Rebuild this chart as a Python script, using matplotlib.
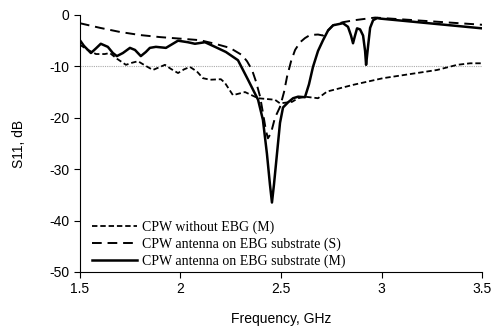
import numpy as np
import matplotlib
matplotlib.use("Agg")
import matplotlib.pyplot as plt

# CPW without EBG (M)
f_noebg = [1.500, 1.540, 1.580, 1.624, 1.649, 1.684, 1.729, 1.759, 1.789, 1.823,
           1.863, 1.893, 1.923, 1.953, 1.988, 2.017, 2.047, 2.082, 2.112, 2.147,
           2.201, 2.221, 2.261, 2.321, 2.386, 2.470, 2.495, 2.555, 2.585, 2.619,
           2.684, 2.729, 2.858, 3.007, 3.192, 3.276, 3.376, 3.440, 3.500]
s_noebg = [-5.8, -6.8, -7.6, -7.6, -7.4, -8.5, -9.7, -9.3, -9.0, -9.8,
           -10.7, -10.2, -9.7, -10.5, -11.3, -10.6, -10.1, -11.0, -12.3, -12.6,
           -12.5, -13.2, -15.6, -15.0, -16.2, -16.5, -17.2, -16.9, -16.2, -15.9,
           -16.2, -14.9, -13.6, -12.3, -11.2, -10.7, -9.7, -9.4, -9.4]

# CPW antenna on EBG substrate (S)
f_s = [1.500, 1.600, 1.699, 1.799, 1.898, 1.998, 2.097, 2.172, 2.246, 2.306,
       2.331, 2.356, 2.376, 2.396, 2.410, 2.425, 2.435, 2.450, 2.470, 2.495,
       2.515, 2.530, 2.550, 2.570, 2.595, 2.619, 2.644, 2.684, 2.709, 2.734,
       2.759, 2.808, 2.868, 2.968, 3.500]
s_s = [-1.6, -2.5, -3.3, -3.9, -4.3, -4.6, -4.9, -5.6, -6.4, -7.8,
       -9.0, -10.7, -13.0, -15.9, -19.0, -22.5, -24.0, -23.0, -20.0, -17.9,
       -15.0, -12.0, -9.0, -6.8, -5.3, -4.5, -3.9, -3.8, -4.0, -3.0,
       -2.0, -1.4, -1.0, -0.5, -1.9]

# CPW antenna on EBG substrate (M)
f_m = [1.500, 1.520, 1.555, 1.580, 1.604, 1.639, 1.664, 1.684, 1.714, 1.749,
       1.774, 1.803, 1.828, 1.848, 1.878, 1.928, 1.958, 1.988, 2.037, 2.072,
       2.122, 2.172, 2.226, 2.286, 2.336, 2.386, 2.410, 2.430, 2.445, 2.455,
       2.465, 2.480, 2.495, 2.510, 2.535, 2.560, 2.585, 2.619, 2.639, 2.659,
       2.684, 2.709, 2.734, 2.759, 2.808, 2.833, 2.848, 2.858, 2.868, 2.878,
       2.893, 2.908, 2.918, 2.923, 2.933, 2.943, 2.958, 2.978, 2.993, 3.500]
s_m = [-4.9, -6.0, -7.4, -6.5, -5.6, -6.2, -7.4, -8.0, -7.4, -6.4,
       -6.8, -8.0, -7.2, -6.4, -6.2, -6.4, -5.7, -5.0, -5.3, -5.6,
       -5.3, -6.2, -7.2, -8.8, -12.6, -16.5, -20.4, -27.0, -33.0, -36.5,
       -33.0, -27.0, -21.0, -18.0, -17.0, -16.2, -15.9, -16.0, -13.5, -10.1,
       -7.0, -4.9, -3.0, -2.0, -1.6, -2.3, -4.0, -5.5, -4.0, -2.6,
       -2.8, -4.0, -7.0, -9.7, -6.0, -2.5, -1.0, -0.6, -0.7, -2.6]

plt.rcParams['font.family'] = ['Liberation Sans', 'DejaVu Sans']
plt.rcParams['axes.unicode_minus'] = False

fig = plt.figure(figsize=(4.93, 3.26), dpi=100)
ax = fig.add_axes([0.162, 0.166, 0.816, 0.788])

ax.axhline(-10, color='#aaaaaa', lw=0.8, ls=(0, (1, 1)))
ax.plot(f_noebg, s_noebg, color='black', lw=1.3, ls=(0, (3, 1.6)),
        label='CPW without EBG (M)')
ax.plot(f_s, s_s, color='black', lw=1.4, ls=(0, (5, 3)),
        label='CPW antenna on EBG substrate (S)')
ax.plot(f_m, s_m, color='black', lw=1.8, label='CPW antenna on EBG substrate (M)')

ax.set_xlim(1.5, 3.5)
ax.set_ylim(-50, 0)
ax.set_xticks([1.5, 2, 2.5, 3, 3.5])
ax.set_xticklabels(['1.5', '2', '2.5', '3', '3.5'])
ax.set_yticks([0, -10, -20, -30, -40, -50])
ax.tick_params(labelsize=10, direction='out', length=4, width=0.8)
ax.spines['top'].set_visible(False)
ax.spines['right'].set_visible(False)
ax.set_xlabel('Frequency, GHz', fontsize=10, labelpad=11)
ax.set_ylabel('S11, dB', fontsize=10, labelpad=17)

leg = ax.legend(loc='lower left', frameon=False, prop={'family': 'Liberation Serif', 'size': 10},
                handlelength=3.2, handletextpad=0.4, labelspacing=0.25,
                bbox_to_anchor=(0.0, -0.035))

fig.savefig('out.png', dpi=100)
